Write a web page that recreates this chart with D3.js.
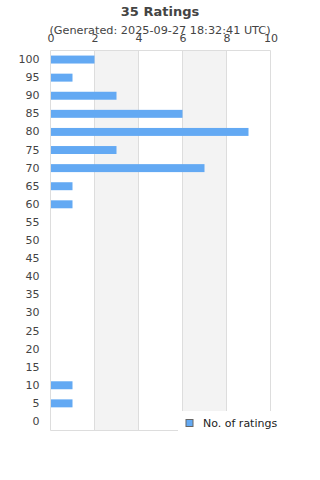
<!DOCTYPE html>
<html><head><meta charset="utf-8">
<script src="https://cdn.jsdelivr.net/npm/d3@7"></script>
<style>body{margin:0;background:#fff;}svg{display:block;font-family:"DejaVu Sans",sans-serif;}</style>
</head><body><svg id="c" width="320" height="480"></svg>
<script>
const categories = ["100","95","90","85","80","75","70","65","60","55","50","45","40","35","30","25","20","15","10","5","0"];
const ratings = [2,1,3,6,9,3,7,1,1,0,0,0,0,0,0,0,0,0,1,1,0];
const xTicks = [0,2,4,6,8,10];
const title = "35 Ratings";
const subtitle = "(Generated: 2025-09-27 18:32:41 UTC)";
const seriesName = "No. of ratings";

const svg = d3.select("#c");
const m = {l:50.5, r:270.5, t:50.5, b:430.5};
const x = d3.scaleLinear().domain([0,10]).range([m.l, m.r]);
const y = d3.scaleBand().domain(categories).range([m.t, m.b]).paddingInner(0.56).paddingOuter(0.28);

// alternating bands
for (let i=0;i<xTicks.length-1;i++){
  if (i%2===1) svg.append("rect").attr("x",x(xTicks[i])).attr("y",m.t).attr("width",x(xTicks[i+1])-x(xTicks[i])).attr("height",m.b-m.t).attr("fill","#f3f3f3");
}
// grid lines
svg.selectAll(".g").data(xTicks).enter().append("line")
  .attr("x1",d=>x(d)).attr("x2",d=>x(d)).attr("y1",m.t).attr("y2",m.b)
  .attr("stroke","#dddddd").attr("stroke-width",1);
svg.append("line").attr("x1",m.l).attr("x2",m.r).attr("y1",m.t).attr("y2",m.t).attr("stroke","#dddddd");
svg.append("line").attr("x1",m.l).attr("x2",m.r).attr("y1",m.b).attr("y2",m.b).attr("stroke","#dddddd");

// bars
svg.selectAll(".bar").data(ratings).enter().append("rect")
  .attr("x",x(0)+0.5).attr("y",(d,i)=>y(categories[i]))
  .attr("width",d=>Math.max(0,x(d)-x(0)-(d>0?0.5:0))).attr("height",y.bandwidth())
  .attr("fill","#63a9f3");

// x axis top
const xa = svg.append("g").attr("transform",`translate(0,${m.t})`)
  .call(d3.axisTop(x).tickValues(xTicks).tickSize(0).tickPadding(9));
xa.select(".domain").remove();
xa.selectAll("text").attr("font-size",11).attr("fill","#444").attr("font-family","DejaVu Sans");

// y axis
const ya = svg.append("g").attr("transform",`translate(${m.l},0)`)
  .call(d3.axisLeft(y).tickSize(0).tickPadding(11));
ya.select(".domain").remove();
ya.selectAll("text").attr("font-size",11).attr("fill","#444").attr("font-family","DejaVu Sans");

// titles
svg.append("text").attr("x",160).attr("y",16).attr("text-anchor","middle")
  .attr("font-size",13).attr("font-weight","bold").attr("fill","#444").text(title);
svg.append("text").attr("x",160).attr("y",34).attr("text-anchor","middle")
  .attr("font-size",11.25).attr("fill","#444").text(subtitle);

// legend
svg.append("rect").attr("x",178).attr("y",411).attr("width",142).attr("height",30).attr("fill","#fff");
svg.append("rect").attr("x",186).attr("y",419.5).attr("width",7).attr("height",7)
  .attr("fill","#63a9f3").attr("stroke","#666").attr("stroke-width",1);
svg.append("text").attr("x",203).attr("y",427).attr("font-size",11).attr("fill","#222").text(seriesName);
</script></body></html>
